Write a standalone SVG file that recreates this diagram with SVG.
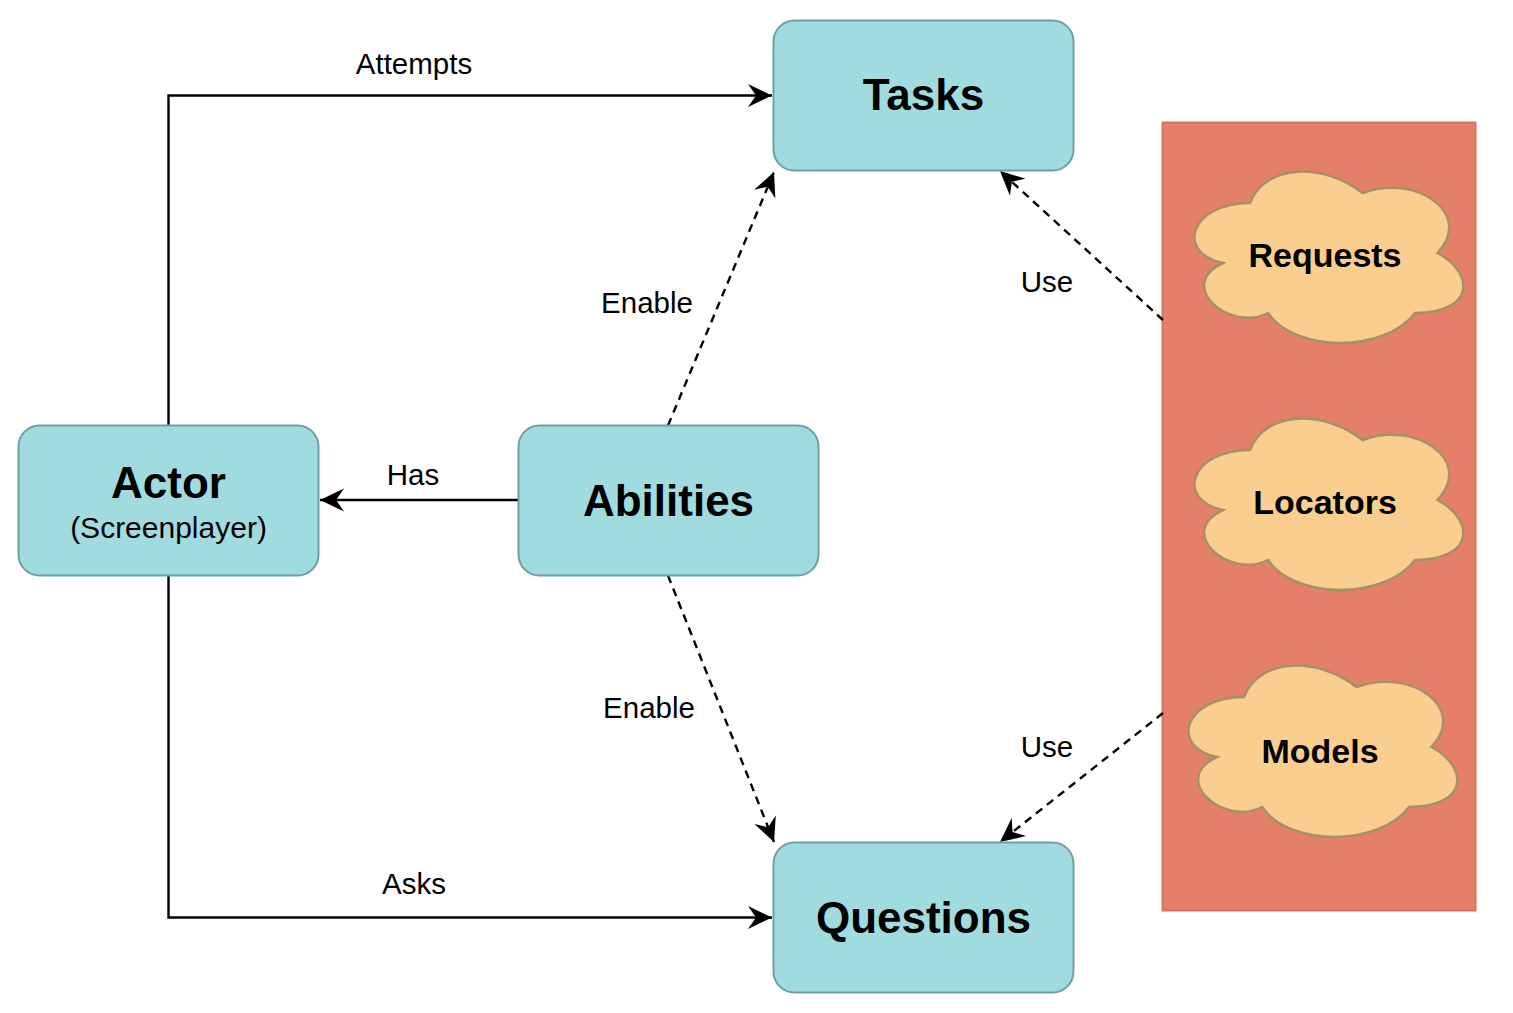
<svg xmlns="http://www.w3.org/2000/svg" width="1513" height="1013" viewBox="0 0 1513 1013">
<style>
.node{fill:#A0DCDF;stroke:#6F9FA2;stroke-width:2}
.cloud{fill:#FACE8E;stroke:#A69066;stroke-width:2.5}
.t{font-family:"Liberation Sans",Arial,sans-serif;fill:#000;text-anchor:middle}
.big{font-size:44px;font-weight:bold}
.cl{font-size:34px;font-weight:bold}
.lbl{font-size:29.5px}
.edge{fill:none;stroke:#000;stroke-width:2.4}
.dash{stroke-dasharray:8 6}
</style>
<defs>
<marker id="arr" markerUnits="userSpaceOnUse" markerWidth="27" markerHeight="27" viewBox="-25 -13 27 27" refX="0" refY="0" orient="auto">
<path d="M0,0 L-24,-11.5 L-16,0 L-24,11.5 Z" fill="#000"/>
</marker>
<path id="cloudShape" d="M75,50 C15,50 0,100 48,110 C0,132 54,180 93,160 C120,200 210,200 240,160 C300,160 300,120 262.5,100 C300,60 240,20 187.5,40 C150,10 90,10 75,50 Z"/>
</defs>
<rect width="1513" height="1013" fill="#fff"/>
<g id="container">
<rect x="1162.5" y="122.5" width="313" height="788" fill="#E4806A" stroke="#D6735B" stroke-width="2"/>
</g>
<g id="connectors">
<polyline class="edge" points="168.5,425.5 168.5,95.5 772,95.5" marker-end="url(#arr)"/>
<polyline class="edge" points="168.5,575.5 168.5,917.5 772,917.5" marker-end="url(#arr)"/>
<line class="edge" x1="518" y1="500" x2="320" y2="500" marker-end="url(#arr)"/>
<line class="edge dash" x1="668" y1="425.5" x2="774" y2="172" marker-end="url(#arr)"/>
<line class="edge dash" x1="668" y1="575.5" x2="774" y2="842" marker-end="url(#arr)"/>
<line class="edge dash" x1="1163" y1="320" x2="1000" y2="171" marker-end="url(#arr)"/>
<line class="edge dash" x1="1163" y1="713" x2="1000" y2="842" marker-end="url(#arr)"/>
<text class="t lbl" x="414" y="74">Attempts</text>
<text class="t lbl" x="414" y="894">Asks</text>
<text class="t lbl" x="413" y="485">Has</text>
<text class="t lbl" x="647" y="313">Enable</text>
<text class="t lbl" x="649" y="718">Enable</text>
<text class="t lbl" x="1047" y="292">Use</text>
<text class="t lbl" x="1047" y="757">Use</text>
</g>
<g id="tasks">
<rect class="node" x="773.5" y="20.5" width="300" height="150" rx="21"/>
<text class="t big" x="923.5" y="110">Tasks</text>
</g>
<g id="actor">
<rect class="node" x="18.5" y="425.5" width="300" height="150" rx="21"/>
<text class="t big" x="168.5" y="498">Actor</text>
<text class="t" x="168.5" y="538" font-size="30">(Screenplayer)</text>
</g>
<g id="abilities">
<rect class="node" x="518.5" y="425.5" width="300" height="150" rx="21"/>
<text class="t big" x="668.5" y="516">Abilities</text>
</g>
<g id="questions">
<rect class="node" x="773.5" y="842.5" width="300" height="150" rx="21"/>
<text class="t big" x="923.5" y="933">Questions</text>
</g>
<g id="requests">
<use href="#cloudShape" class="cloud" transform="translate(1175,153)"/>
<text class="t cl" x="1325" y="267">Requests</text>
</g>
<g id="locators">
<use href="#cloudShape" class="cloud" transform="translate(1175,400)"/>
<text class="t cl" x="1325" y="514">Locators</text>
</g>
<g id="models">
<use href="#cloudShape" class="cloud" transform="translate(1169,647)"/>
<text class="t cl" x="1320" y="763">Models</text>
</g>
</svg>
